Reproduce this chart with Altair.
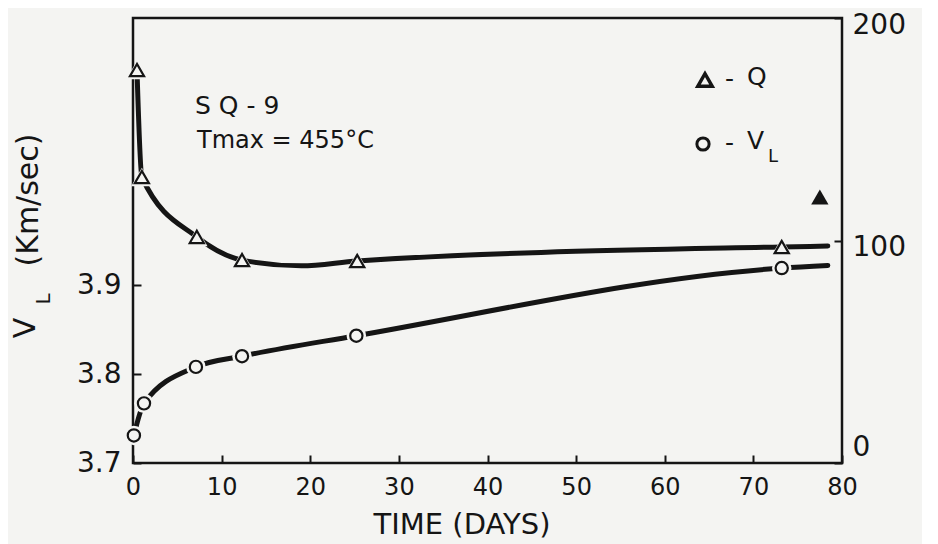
import altair as alt
import pandas as pd

# ---- data ----
q_days = [0.45, 1.0, 7.2, 12.3, 25.3, 73.2]
q_vals = [176.6, 128.5, 101.6, 91.2, 90.8, 97.1]
q_curve_days = [0.45, 1.0, 7.2, 12.3, 19.0, 25.3, 73.2, 78.4]
q_curve_vals = [176.6, 128.5, 101.6, 91.2, 88.6, 90.8, 97.1, 97.5]
q_solid_days = [77.5]
q_solid_vals = [119.6]

v_days = [0.1, 1.24, 7.1, 12.3, 25.2, 73.2]
v_vals = [3.731, 3.767, 3.808, 3.820, 3.843, 3.919]
v_curve_days = [0.1, 1.24, 7.1, 12.3, 25.2, 73.2, 78.4]
v_curve_vals = [3.731, 3.767, 3.808, 3.820, 3.843, 3.919, 3.922]

x_ticks = [0, 10, 20, 30, 40, 50, 60, 70, 80]
v_ticks = [3.7, 3.8, 3.9]
q_ticks = [0, 100, 200]

BG = "#f4f4f2"
INK = "#151515"
FONT = "DejaVu Sans"

q_pts = pd.DataFrame({"day": q_days, "q": q_vals})
q_line = pd.DataFrame({"day": q_curve_days, "q": q_curve_vals})
q_solid = pd.DataFrame({"day": q_solid_days, "q": q_solid_vals})
v_pts = pd.DataFrame({"day": v_days, "v": v_vals})
v_line = pd.DataFrame({"day": v_curve_days, "v": v_curve_vals})

x_axis = alt.Axis(values=x_ticks, format="d", title=None, domain=False, grid=False,
                  tickSize={"expr": "-8"}, tickWidth=2, tickColor=INK,
                  labelFontSize=24, labelFont=FONT, labelColor=INK, labelPadding=20,
                  labelFlush=False)
X = alt.X("day:Q", scale=alt.Scale(domain=[0, 80], nice=False, zero=False), axis=x_axis)

v_axis = alt.Axis(values=v_ticks, format=".1f", title=None, domain=False, grid=False,
                  orient="left", tickSize={"expr": "-8"}, tickWidth=2, tickColor=INK,
                  labelFontSize=28, labelFont=FONT, labelColor=INK, labelPadding=20,
                  labelFlush=False)
YV = alt.Y("v:Q", scale=alt.Scale(domain=[3.7, 4.2], nice=False, zero=False), axis=v_axis)

q_axis = alt.Axis(values=q_ticks, format="d", title=None, domain=False, grid=False,
                  orient="right", tickSize={"expr": "-8"}, tickWidth=2, tickColor=INK,
                  labelFontSize=28, labelFont=FONT, labelColor=INK, labelPadding=18,
                  labelAlign="left", labelBaseline="middle", labelFlush=False,
                  labelOffset={"condition": {"test": "datum.value == 0", "value": -16},
                               "value": 7})
YQ = alt.Y("q:Q", scale=alt.Scale(domain=[0, 200], nice=False, zero=False), axis=q_axis)

v_curve = alt.Chart(v_line).mark_line(color=INK, strokeWidth=5, interpolate="monotone",
                                      strokeCap="round").encode(x=X, y=YV)
v_halo = alt.Chart(v_pts).mark_point(shape="circle", filled=True, color=BG, size=380,
                                     opacity=1).encode(x=X, y=YV)
v_mark = alt.Chart(v_pts).mark_point(shape="circle", filled=True, fill=BG, stroke=INK,
                                     strokeWidth=2.2, size=150, opacity=1).encode(x=X, y=YV)

q_curve = alt.Chart(q_line).mark_line(color=INK, strokeWidth=5, interpolate="monotone",
                                      strokeCap="round").encode(x=X, y=YQ)
q_halo = alt.Chart(q_pts).mark_point(shape="triangle-up", filled=True, color=BG, size=460,
                                     opacity=1).encode(x=X, y=YQ)
q_mark = alt.Chart(q_pts).mark_point(shape="triangle-up", filled=True, fill=BG, stroke=INK,
                                     strokeWidth=2.2, size=200, opacity=1).encode(x=X, y=YQ)
q_fill = alt.Chart(q_solid).mark_point(shape="triangle-up", filled=True, color=INK,
                                       size=300, opacity=1).encode(x=X, y=YQ)

one = alt.Data(values=[{}])


def label(text, x, y, size, angle=0, align="left"):
    kw = dict(text=text, font=FONT, fontSize=size, color=INK, align=align, baseline="middle")
    if angle:
        kw["angle"] = angle
    return alt.Chart(one).mark_text(**kw).encode(x=alt.value(x), y=alt.value(y))


notes = [
    label("S Q - 9", 62, 88, 25),
    label("Tmax  =  455°C", 64, 123, 24),
    label("-", 592, 61, 25),
    label("Q", 614, 59, 25),
    label("-", 592, 125, 25),
    label("V", 614, 123, 25),
    label("L", 635, 139, 18),
    label("TIME (DAYS)", 329, 507, 29, align="center"),
    label("V", -107, 310, 30, angle=270, align="center"),
    label("L", -89, 281, 20, angle=270, align="center"),
    label("(Km/sec)", -104, 182, 30, angle=270, align="center"),
]
leg_tri = alt.Chart(one).mark_point(shape="triangle-up", filled=True, fill=BG, stroke=INK,
                                    strokeWidth=3.4, size=210, opacity=1).encode(
    x=alt.value(572), y=alt.value(62))
leg_circ = alt.Chart(one).mark_point(shape="circle", filled=True, fill=BG, stroke=INK,
                                     strokeWidth=3, size=150, opacity=1).encode(
    x=alt.value(570), y=alt.value(126))

left = alt.layer(v_curve, v_halo, v_mark)
right = alt.layer(q_curve, q_halo, q_mark, q_fill)

chart = alt.layer(left, right, leg_tri, leg_circ, *notes).resolve_scale(
    y="independent"
).properties(
    width=709, height=445,
    autosize=alt.AutoSizeParams(type="none"),
    padding={"left": 125, "top": 10, "right": 80, "bottom": 81},
    background=BG,
).configure_view(
    stroke=INK, strokeWidth=2.5
)

chart.save("out.html", embed_options={"renderer": "svg", "actions": False})
